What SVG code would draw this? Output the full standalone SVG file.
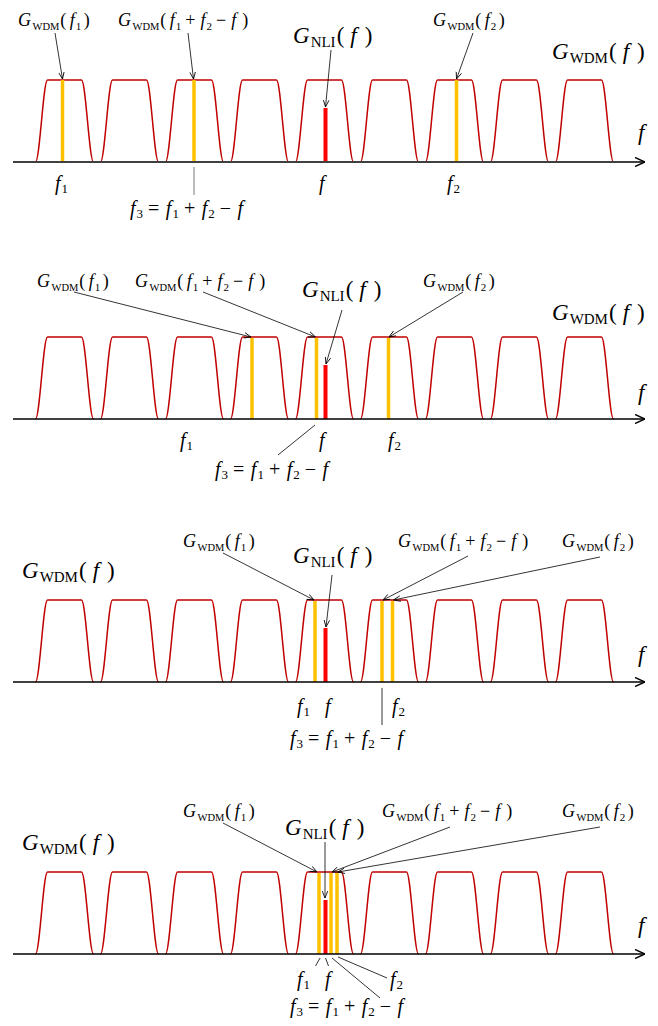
<svg xmlns="http://www.w3.org/2000/svg" xmlns:xlink="http://www.w3.org/1999/xlink" width="658" height="1026" viewBox="0 0 658 1026">
<style>
.t{font-family:"Liberation Serif","Times New Roman",serif;fill:#000}
.i{font-style:italic}
.s{font-size:18px}
.b{font-size:23px}
.m{font-size:20px}
.ch{fill:none;stroke:#c00000;stroke-width:1.5}
.ax{stroke:#000;stroke-width:1.4;fill:none}
.ax1{stroke:#404040;stroke-width:2;fill:none}
.yb{stroke:#ffc000;stroke-width:3.5}
.rb{stroke:#ff0000;stroke-width:4}
.ld{stroke:#000;stroke-width:0.8;fill:none}
.tk{stroke:#555;stroke-width:0.8;fill:none}
</style>
<defs>
<path id="ch" d="M-29,0 C-24.7,0 -21.3,-82 -17,-82 L17,-82 C21.3,-82 24.7,0 29,0"/>
<g id="chs" class="ch">
<use href="#ch" x="64.5"/><use href="#ch" x="129.5"/><use href="#ch" x="194.5"/><use href="#ch" x="259.5"/><use href="#ch" x="324.5"/><use href="#ch" x="389.5"/><use href="#ch" x="454.5"/><use href="#ch" x="519.5"/><use href="#ch" x="584.5"/>
</g>
<marker id="ah" viewBox="0 0 10 10" refX="10" refY="5" markerWidth="7" markerHeight="7" orient="auto" markerUnits="userSpaceOnUse"><path d="M0,1 L10,5 L0,9" fill="none" stroke="#000" stroke-width="1.2"/></marker>
<marker id="axa" viewBox="0 0 10 10" refX="10" refY="5" markerWidth="10" markerHeight="10" orient="auto" markerUnits="userSpaceOnUse"><path d="M0,0.5 L10,5 L0,9.5" fill="none" stroke="#000" stroke-width="1.5"/></marker>
</defs>

<!-- Panel 1 -->
<g id="panel1">
<g id="p1-spectrum">
<use href="#chs" y="162"/>
<line class="yb" x1="62.5" y1="80" x2="62.5" y2="162"/>
<line class="yb" x1="194" y1="80" x2="194" y2="162"/>
<line class="rb" x1="325.5" y1="108" x2="325.5" y2="162"/>
<line class="yb" x1="456.5" y1="80" x2="456.5" y2="162"/>
<line class="ax1" x1="13" y1="162" x2="645" y2="162" marker-end="url(#axa)"/>
</g>
<g id="p1-labels">
<text class="t s" x="18" y="25.5"><tspan class="i">G</tspan><tspan font-size="10.5" dy="4" dx="1.5">WDM</tspan><tspan dy="-4" dx="1">(</tspan><tspan class="i" dx="3.5">f</tspan><tspan font-size="11" dy="4" dx="1">1</tspan><tspan dy="-4" dx="2.5">)</tspan></text>
<text class="t s" x="118" y="25.5"><tspan class="i">G</tspan><tspan font-size="10.5" dy="4" dx="1.5">WDM</tspan><tspan dy="-4" dx="1">(</tspan><tspan class="i" dx="3.5">f</tspan><tspan font-size="11" dy="4" dx="1">1</tspan><tspan dy="-4" dx="4">+</tspan><tspan class="i" dx="5">f</tspan><tspan font-size="11" dy="4" dx="1">2</tspan><tspan dy="-4" dx="4">−</tspan><tspan class="i" dx="5">f</tspan><tspan dx="6">)</tspan></text>
<text class="t b" x="293" y="43"><tspan class="i">G</tspan><tspan font-size="15" dy="4" dx="1">NLI</tspan><tspan dy="-4" dx="1">(</tspan><tspan class="i" dx="6">f</tspan><tspan dx="8">)</tspan></text>
<text class="t s" x="433" y="25.5"><tspan class="i">G</tspan><tspan font-size="10.5" dy="4" dx="1.5">WDM</tspan><tspan dy="-4" dx="1">(</tspan><tspan class="i" dx="3.5">f</tspan><tspan font-size="11" dy="4" dx="1">2</tspan><tspan dy="-4" dx="2.5">)</tspan></text>
<text class="t b" x="552" y="58.5"><tspan class="i">G</tspan><tspan font-size="15" dy="4" dx="1">WDM</tspan><tspan dy="-4" dx="1">(</tspan><tspan class="i" dx="6">f</tspan><tspan dx="8">)</tspan></text>
<text class="t b i" x="638" y="140">f</text>
<text class="t m" x="55" y="190"><tspan class="i">f</tspan><tspan font-size="13" dy="3" dx="1">1</tspan></text>
<text class="t m i" x="319" y="190">f</text>
<text class="t m" x="447" y="190"><tspan class="i">f</tspan><tspan font-size="13" dy="3" dx="1">2</tspan></text>
<text class="t m" x="130" y="215"><tspan class="i">f</tspan><tspan font-size="13" dy="3" dx="1">3</tspan><tspan dy="-3" dx="5">=</tspan><tspan class="i" dx="6.5">f</tspan><tspan font-size="13" dy="3" dx="1">1</tspan><tspan dy="-3" dx="5">+</tspan><tspan class="i" dx="6.5">f</tspan><tspan font-size="13" dy="3" dx="1">2</tspan><tspan dy="-3" dx="5">−</tspan><tspan class="i" dx="6.5">f</tspan></text>
</g>
<g id="p1-connectors">
<line class="ld" x1="55" y1="33" x2="62.5" y2="79" marker-end="url(#ah)"/>
<line class="ld" x1="188" y1="33" x2="193.5" y2="79" marker-end="url(#ah)"/>
<line class="ld" x1="331" y1="50" x2="325.5" y2="107" marker-end="url(#ah)"/>
<line class="ld" x1="473" y1="33" x2="456.5" y2="79" marker-end="url(#ah)"/>
<line class="tk" x1="194" y1="167" x2="194" y2="195"/>
</g>
</g>

<!-- Panel 2 -->
<g id="panel2">
<g id="p2-spectrum">
<use href="#chs" y="419"/>
<line class="yb" x1="252" y1="338" x2="252" y2="419"/>
<line class="yb" x1="316.5" y1="338" x2="316.5" y2="419"/>
<line class="rb" x1="325.5" y1="365" x2="325.5" y2="419"/>
<line class="yb" x1="388.5" y1="338" x2="388.5" y2="419"/>
<line class="ax" x1="13" y1="419" x2="645" y2="419" marker-end="url(#axa)"/>
</g>
<g id="p2-labels">
<text class="t s" x="37" y="287"><tspan class="i">G</tspan><tspan font-size="10.5" dy="4" dx="1.5">WDM</tspan><tspan dy="-4" dx="1">(</tspan><tspan class="i" dx="3.5">f</tspan><tspan font-size="11" dy="4" dx="1">1</tspan><tspan dy="-4" dx="2.5">)</tspan></text>
<text class="t s" x="135" y="287"><tspan class="i">G</tspan><tspan font-size="10.5" dy="4" dx="1.5">WDM</tspan><tspan dy="-4" dx="1">(</tspan><tspan class="i" dx="3.5">f</tspan><tspan font-size="11" dy="4" dx="1">1</tspan><tspan dy="-4" dx="4">+</tspan><tspan class="i" dx="5">f</tspan><tspan font-size="11" dy="4" dx="1">2</tspan><tspan dy="-4" dx="4">−</tspan><tspan class="i" dx="5">f</tspan><tspan dx="6">)</tspan></text>
<text class="t b" x="302" y="297"><tspan class="i">G</tspan><tspan font-size="15" dy="4" dx="1">NLI</tspan><tspan dy="-4" dx="1">(</tspan><tspan class="i" dx="6">f</tspan><tspan dx="8">)</tspan></text>
<text class="t s" x="423" y="287"><tspan class="i">G</tspan><tspan font-size="10.5" dy="4" dx="1.5">WDM</tspan><tspan dy="-4" dx="1">(</tspan><tspan class="i" dx="3.5">f</tspan><tspan font-size="11" dy="4" dx="1">2</tspan><tspan dy="-4" dx="2.5">)</tspan></text>
<text class="t b" x="552" y="320"><tspan class="i">G</tspan><tspan font-size="15" dy="4" dx="1">WDM</tspan><tspan dy="-4" dx="1">(</tspan><tspan class="i" dx="6">f</tspan><tspan dx="8">)</tspan></text>
<text class="t b i" x="638" y="400">f</text>
<text class="t m" x="180" y="447"><tspan class="i">f</tspan><tspan font-size="13" dy="3" dx="1">1</tspan></text>
<text class="t m i" x="319" y="447">f</text>
<text class="t m" x="388" y="447"><tspan class="i">f</tspan><tspan font-size="13" dy="3" dx="1">2</tspan></text>
<text class="t m" x="215" y="476"><tspan class="i">f</tspan><tspan font-size="13" dy="3" dx="1">3</tspan><tspan dy="-3" dx="5">=</tspan><tspan class="i" dx="6.5">f</tspan><tspan font-size="13" dy="3" dx="1">1</tspan><tspan dy="-3" dx="5">+</tspan><tspan class="i" dx="6.5">f</tspan><tspan font-size="13" dy="3" dx="1">2</tspan><tspan dy="-3" dx="5">−</tspan><tspan class="i" dx="6.5">f</tspan></text>
</g>
<g id="p2-connectors">
<line class="ld" x1="74" y1="292" x2="251" y2="337" marker-end="url(#ah)"/>
<line class="ld" x1="203" y1="292" x2="315.5" y2="337" marker-end="url(#ah)"/>
<line class="ld" x1="342" y1="310" x2="326" y2="364" marker-end="url(#ah)"/>
<line class="ld" x1="463" y1="292" x2="389" y2="337" marker-end="url(#ah)"/>
<line class="ld" x1="315" y1="425" x2="278" y2="455"/>
</g>
</g>

<!-- Panel 3 -->
<g id="panel3">
<g id="p3-spectrum">
<use href="#chs" y="682"/>
<line class="yb" x1="315" y1="601" x2="315" y2="682"/>
<line class="rb" x1="325.5" y1="628" x2="325.5" y2="682"/>
<line class="yb" x1="382" y1="601" x2="382" y2="682"/>
<line class="yb" x1="392.5" y1="601" x2="392.5" y2="682"/>
<line class="ax" x1="13" y1="682" x2="645" y2="682" marker-end="url(#axa)"/>
</g>
<g id="p3-labels">
<text class="t b" x="22" y="578"><tspan class="i">G</tspan><tspan font-size="15" dy="4" dx="1">WDM</tspan><tspan dy="-4" dx="1">(</tspan><tspan class="i" dx="6">f</tspan><tspan dx="8">)</tspan></text>
<text class="t s" x="183" y="547"><tspan class="i">G</tspan><tspan font-size="10.5" dy="4" dx="1.5">WDM</tspan><tspan dy="-4" dx="1">(</tspan><tspan class="i" dx="3.5">f</tspan><tspan font-size="11" dy="4" dx="1">1</tspan><tspan dy="-4" dx="2.5">)</tspan></text>
<text class="t b" x="293" y="563"><tspan class="i">G</tspan><tspan font-size="15" dy="4" dx="1">NLI</tspan><tspan dy="-4" dx="1">(</tspan><tspan class="i" dx="6">f</tspan><tspan dx="8">)</tspan></text>
<text class="t s" x="398" y="547"><tspan class="i">G</tspan><tspan font-size="10.5" dy="4" dx="1.5">WDM</tspan><tspan dy="-4" dx="1">(</tspan><tspan class="i" dx="3.5">f</tspan><tspan font-size="11" dy="4" dx="1">1</tspan><tspan dy="-4" dx="4">+</tspan><tspan class="i" dx="5">f</tspan><tspan font-size="11" dy="4" dx="1">2</tspan><tspan dy="-4" dx="4">−</tspan><tspan class="i" dx="5">f</tspan><tspan dx="6">)</tspan></text>
<text class="t s" x="562" y="547"><tspan class="i">G</tspan><tspan font-size="10.5" dy="4" dx="1.5">WDM</tspan><tspan dy="-4" dx="1">(</tspan><tspan class="i" dx="3.5">f</tspan><tspan font-size="11" dy="4" dx="1">2</tspan><tspan dy="-4" dx="2.5">)</tspan></text>
<text class="t b i" x="638" y="662">f</text>
<text class="t m" x="297" y="713"><tspan class="i">f</tspan><tspan font-size="13" dy="3" dx="1">1</tspan></text>
<text class="t m i" x="325" y="713">f</text>
<text class="t m" x="392" y="713"><tspan class="i">f</tspan><tspan font-size="13" dy="3" dx="1">2</tspan></text>
<text class="t m" x="290" y="745"><tspan class="i">f</tspan><tspan font-size="13" dy="3" dx="1">3</tspan><tspan dy="-3" dx="5">=</tspan><tspan class="i" dx="6.5">f</tspan><tspan font-size="13" dy="3" dx="1">1</tspan><tspan dy="-3" dx="5">+</tspan><tspan class="i" dx="6.5">f</tspan><tspan font-size="13" dy="3" dx="1">2</tspan><tspan dy="-3" dx="5">−</tspan><tspan class="i" dx="6.5">f</tspan></text>
</g>
<g id="p3-connectors">
<line class="ld" x1="223" y1="553" x2="314" y2="600" marker-end="url(#ah)"/>
<line class="ld" x1="332" y1="575" x2="326" y2="627" marker-end="url(#ah)"/>
<line class="ld" x1="468" y1="556" x2="383" y2="600" marker-end="url(#ah)"/>
<line class="ld" x1="600" y1="557" x2="393.5" y2="600" marker-end="url(#ah)"/>
<line class="ld" x1="382" y1="688" x2="382" y2="725"/>
</g>
</g>

<!-- Panel 4 -->
<g id="panel4">
<g id="p4-spectrum">
<use href="#chs" y="954"/>
<line class="yb" x1="319" y1="873" x2="319" y2="954"/>
<line class="rb" x1="325.5" y1="900" x2="325.5" y2="954"/>
<line class="yb" x1="331" y1="873" x2="331" y2="954"/>
<line class="yb" x1="337" y1="873" x2="337" y2="954"/>
<line class="ax" x1="13" y1="954" x2="645" y2="954" marker-end="url(#axa)"/>
</g>
<g id="p4-labels">
<text class="t b" x="22" y="850"><tspan class="i">G</tspan><tspan font-size="15" dy="4" dx="1">WDM</tspan><tspan dy="-4" dx="1">(</tspan><tspan class="i" dx="6">f</tspan><tspan dx="8">)</tspan></text>
<text class="t s" x="183" y="817"><tspan class="i">G</tspan><tspan font-size="10.5" dy="4" dx="1.5">WDM</tspan><tspan dy="-4" dx="1">(</tspan><tspan class="i" dx="3.5">f</tspan><tspan font-size="11" dy="4" dx="1">1</tspan><tspan dy="-4" dx="2.5">)</tspan></text>
<text class="t b" x="285" y="835"><tspan class="i">G</tspan><tspan font-size="15" dy="4" dx="1">NLI</tspan><tspan dy="-4" dx="1">(</tspan><tspan class="i" dx="6">f</tspan><tspan dx="8">)</tspan></text>
<text class="t s" x="382" y="817"><tspan class="i">G</tspan><tspan font-size="10.5" dy="4" dx="1.5">WDM</tspan><tspan dy="-4" dx="1">(</tspan><tspan class="i" dx="3.5">f</tspan><tspan font-size="11" dy="4" dx="1">1</tspan><tspan dy="-4" dx="4">+</tspan><tspan class="i" dx="5">f</tspan><tspan font-size="11" dy="4" dx="1">2</tspan><tspan dy="-4" dx="4">−</tspan><tspan class="i" dx="5">f</tspan><tspan dx="6">)</tspan></text>
<text class="t s" x="562" y="817"><tspan class="i">G</tspan><tspan font-size="10.5" dy="4" dx="1.5">WDM</tspan><tspan dy="-4" dx="1">(</tspan><tspan class="i" dx="3.5">f</tspan><tspan font-size="11" dy="4" dx="1">2</tspan><tspan dy="-4" dx="2.5">)</tspan></text>
<text class="t b i" x="638" y="933">f</text>
<text class="t m" x="297" y="986"><tspan class="i">f</tspan><tspan font-size="13" dy="3" dx="1">1</tspan></text>
<text class="t m i" x="325" y="986">f</text>
<text class="t m" x="390" y="986"><tspan class="i">f</tspan><tspan font-size="13" dy="3" dx="1">2</tspan></text>
<text class="t m" x="290" y="1013"><tspan class="i">f</tspan><tspan font-size="13" dy="3" dx="1">3</tspan><tspan dy="-3" dx="5">=</tspan><tspan class="i" dx="6.5">f</tspan><tspan font-size="13" dy="3" dx="1">1</tspan><tspan dy="-3" dx="5">+</tspan><tspan class="i" dx="6.5">f</tspan><tspan font-size="13" dy="3" dx="1">2</tspan><tspan dy="-3" dx="5">−</tspan><tspan class="i" dx="6.5">f</tspan></text>
</g>
<g id="p4-connectors">
<line class="ld" x1="223" y1="823" x2="317" y2="872" marker-end="url(#ah)"/>
<line class="ld" x1="325" y1="842" x2="325" y2="898" marker-end="url(#ah)"/>
<line class="ld" x1="450" y1="827" x2="332" y2="872" marker-end="url(#ah)"/>
<line class="ld" x1="600" y1="827" x2="338" y2="872" marker-end="url(#ah)"/>
<line class="ld" x1="320" y1="958" x2="315.5" y2="966"/>
<line class="ld" x1="325.5" y1="958" x2="328.5" y2="966"/>
<line class="ld" x1="338" y1="957" x2="387" y2="978"/>
<line class="ld" x1="332" y1="958" x2="380" y2="998"/>
</g>
</g>
</svg>
